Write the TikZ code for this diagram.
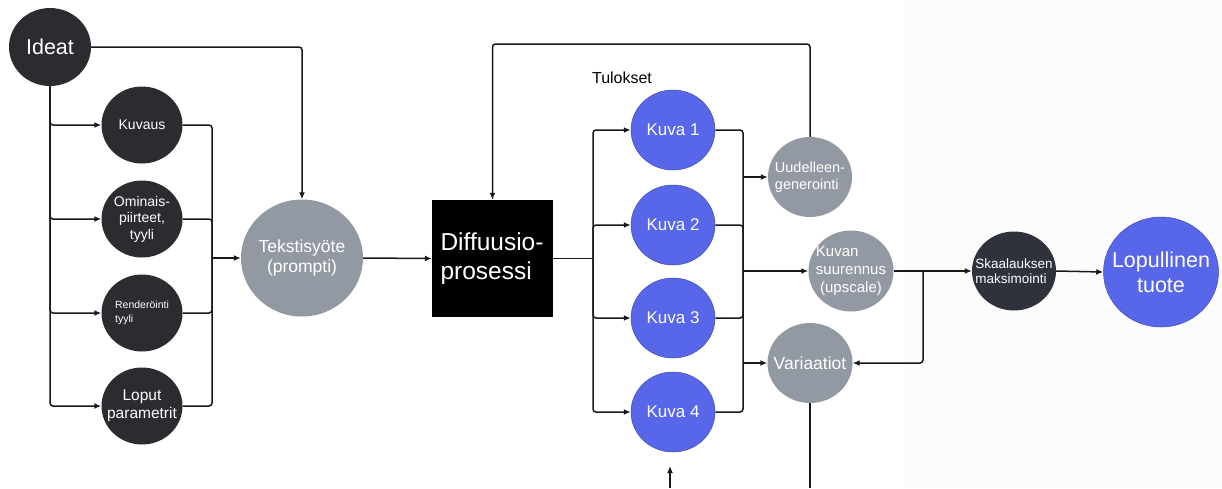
\documentclass[tikz,border=0pt]{standalone}
\usepackage{fontspec}
\setmainfont{Liberation Sans}
\usetikzlibrary{shapes.geometric,arrows.meta}
\definecolor{ink}{HTML}{2B2C30}
\definecolor{slate}{HTML}{30323B}
\definecolor{mist}{HTML}{9399A2}
\definecolor{iris}{HTML}{5866EA}
\definecolor{paper}{HTML}{FCFCFD}
\newcommand{\fs}[2]{\fontsize{#1}{#2}\selectfont}
\begin{document}
\begin{tikzpicture}[x=1pt,y=-1pt,
  blob/.style n args={3}{ellipse, inner sep=-16pt, minimum width=#1, minimum height=#2,
    fill=#3, text=white, align=center},
  wire/.style={line width=1.5pt, draw=black!90, rounded corners=3pt},
  flow/.style={wire, -{Latex[length=7pt,width=6pt]}},
]
% canvas
\useasboundingbox (0,0) rectangle (1222,488);
\fill[white] (0,0) rectangle (1222,488);
\fill[paper] (904,0) rectangle (1222,488);

% prompt building
\node[blob={82pt}{78pt}{ink}, font=\fs{21.5}{24}] (ideat) at (50,47) {Ideat};
\node[blob={81pt}{77pt}{ink}, font=\fs{14}{16}] (kuvaus) at (142,125) {Kuvaus};
\node[blob={81pt}{77pt}{ink}, font=\fs{14}{16.5}] (ominais) at (142,219) {Ominais-\\piirteet,\\tyyli};
\node[blob={81pt}{77pt}{ink}, font=\fs{10.5}{14}, align=left] (render) at (142,313) {Renderöinti\\tyyli};
\node[blob={81pt}{77pt}{ink}, font=\fs{15.5}{18}] (loput) at (142,406) {Loput\\parametrit};
\node[blob={122pt}{117pt}{mist}, font=\fs{17.5}{20}] (tekst) at (302,258) {Tekstisyöte\\(prompti)};

% generation
\node[rectangle, fill=black, minimum width=121pt, minimum height=117pt, inner sep=0pt,
  text=white, align=left, font=\fs{24.5}{29}] (diff) at (492.5,258.5) {\raisebox{6pt}{\parbox{104pt}{Diffuusio-\\prosessi}}};
\node[font=\fs{16}{18}, text=black] (tulokset) at (622,78) {Tulokset};
\node[blob={84pt}{80pt}{iris}, draw=iris!75!black, line width=0.5pt, font=\fs{17}{20}] (kuva1) at (673,130) {Kuva 1};
\node[blob={84pt}{80pt}{iris}, draw=iris!75!black, line width=0.5pt, font=\fs{17}{20}] (kuva2) at (673,225) {Kuva 2};
\node[blob={84pt}{80pt}{iris}, draw=iris!75!black, line width=0.5pt, font=\fs{17}{20}] (kuva3) at (673,318) {Kuva 3};
\node[blob={84pt}{80pt}{iris}, draw=iris!75!black, line width=0.5pt, font=\fs{17}{20}] (kuva4) at (673,412) {Kuva 4};

% post-processing
\node[blob={84pt}{80pt}{mist}, font=\fs{14.5}{17}, align=left] (uud) at (810,177) {Uudelleen-\\generointi};
\node[blob={85pt}{81pt}{mist}, font=\fs{15}{18}, align=left] (kuvan) at (851,271) {Kuvan\\suurennus\\\ (upscale)};
\node[blob={85pt}{80pt}{mist}, font=\fs{17.5}{20}] (var) at (810,363) {Variaatiot};
\node[blob={84pt}{79pt}{slate}, font=\fs{13.5}{15}, align=left] (skaal) at (1014,271) {Skaalauksen\\maksimointi};
\node[blob={115pt}{110pt}{iris}, draw=iris!75!black, line width=0.5pt, font=\fs{21.5}{25}] (lop) at (1161,272) {Lopullinen\\tuote};

% junction points
\coordinate (lbus) at (212,258);
\coordinate (mbus) at (593,258.5);
\coordinate (rbus) at (743,271);
\coordinate (br) at (923,271);
\coordinate (fb) at (650,44);
\coordinate (vout) at (812,488);
\coordinate (kin) at (670,488);
\coordinate (kintip) at (670,466);

% ideas into prompt
\draw[flow] (ideat.east) -| (tekst.north);
\draw[flow] (ideat.south) |- (kuvaus.west);
\draw[flow] (ideat.south) |- (ominais.west);
\draw[flow] (ideat.south) |- (render.west);
\draw[flow] (ideat.south) |- (loput.west);
\draw[wire] (kuvaus.east) -| (lbus);
\draw[wire] (ominais.east) -| (lbus);
\draw[wire] (render.east) -| (lbus);
\draw[wire] (loput.east) -| (lbus);
\draw[flow] (lbus) -- (tekst.west);

% prompt into diffusion and results
\draw[flow] (tekst.east) -- (diff.west);
\draw[wire] (diff.east) -- (mbus);
\draw[flow] (mbus) |- (kuva1.west);
\draw[flow] (mbus) |- (kuva2.west);
\draw[flow] (mbus) |- (kuva3.west);
\draw[flow] (mbus) |- (kuva4.west);

% results into post-processing
\draw[wire] (kuva1.east) -| (rbus);
\draw[wire] (kuva2.east) -| (rbus);
\draw[wire] (kuva3.east) -| (rbus);
\draw[wire] (kuva4.east) -| (rbus);
\draw[flow] (rbus |- uud.west) -- (uud.west);
\draw[flow] (rbus) -- (kuvan.west);
\draw[flow] (rbus |- var.west) -- (var.west);

% regeneration loop
\draw[flow] (uud.north) |- (fb) -| (diff.north);

% upscale path
\draw[flow] (kuvan.east) -- (skaal.west);
\draw[flow] (br) |- (var.east);
\draw[flow] (skaal.east) -- (lop.west);

% open ends at the bottom
\draw[wire] (var.south) -- (var.south |- vout);
\draw[flow] (kin) -- (kintip);
\end{tikzpicture}
\end{document}
